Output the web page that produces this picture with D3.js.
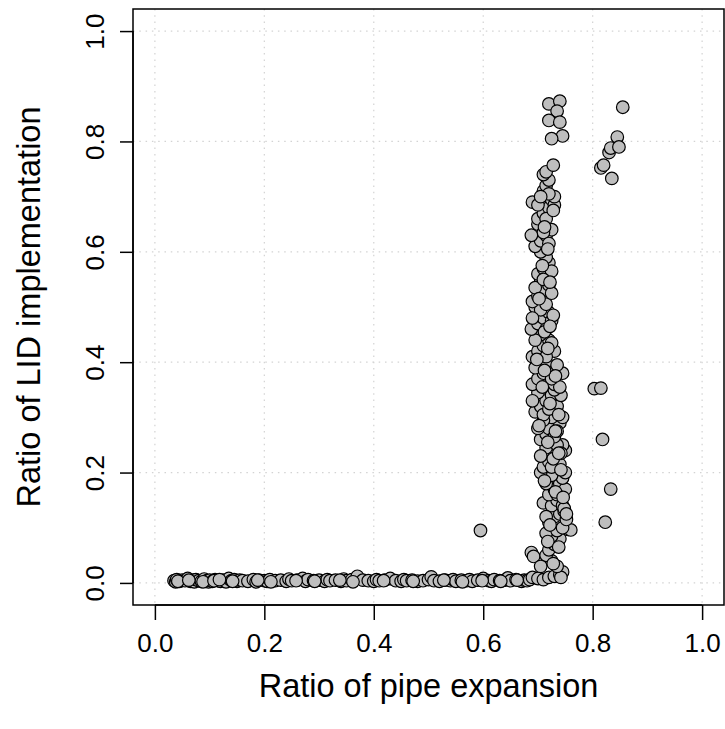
<!DOCTYPE html>
<html>
<head>
<meta charset="utf-8">
<script src="https://cdn.jsdelivr.net/npm/d3@7"></script>
<style>
  body { margin: 0; background: #fff; }
  svg { display: block; font-family: "Liberation Sans", Arial, sans-serif; }
</style>
</head>
<body>
<svg id="chart" width="725" height="729"></svg>
<script>
'use strict';

// ticks
var xTicks = [0.0, 0.2, 0.4, 0.6, 0.8, 1.0];
var yTicks = [0.0, 0.2, 0.4, 0.6, 0.8, 1.0];

// runs sitting on the floor (almost no LID)
var floorX = [0.035,0.038,0.04,0.045,0.05,0.055,0.06,0.065,0.07,0.072,0.075,0.08,0.085,0.09,0.095,0.098,0.1,0.105,0.11,0.115,0.12,0.125,0.13,0.135,0.14,0.145,0.15,0.155,0.16,0.17,0.18,0.185,0.19,0.2,0.205,0.21,0.22,0.23,0.24,0.245,0.25,0.26,0.27,0.275,0.28,0.29,0.3,0.31,0.315,0.32,0.33,0.34,0.345,0.35,0.36,0.37,0.38,0.39,0.4,0.405,0.41,0.42,0.43,0.44,0.45,0.455,0.46,0.47,0.48,0.49,0.5,0.505,0.51,0.52,0.53,0.54,0.545,0.55,0.56,0.57,0.575,0.58,0.59,0.6,0.61,0.615,0.62,0.63,0.64,0.645,0.65,0.66,0.67,0.675,0.68,
  0.042,0.062,0.088,0.108,0.118,0.142,0.188,0.212,0.258,0.292,0.338,0.362,0.418,0.472,0.528,0.562,0.598,0.632,0.662,0.685];
var floorY = [0.004,0.002,0.006,0.003,0.005,0.004,0.008,0.003,0.005,0.002,0.006,0.004,0.003,0.007,0.004,0.002,0.005,0.003,0.006,0.004,0.003,0.005,0.002,0.008,0.004,0.006,0.003,0.005,0.004,0.003,0.006,0.002,0.005,0.004,0.003,0.006,0.004,0.005,0.003,0.007,0.004,0.005,0.008,0.003,0.006,0.004,0.005,0.003,0.006,0.004,0.005,0.003,0.007,0.004,0.006,0.012,0.005,0.004,0.003,0.006,0.004,0.005,0.008,0.004,0.003,0.006,0.004,0.005,0.003,0.004,0.006,0.011,0.004,0.003,0.005,0.004,0.006,0.003,0.005,0.004,0.006,0.003,0.005,0.008,0.004,0.003,0.006,0.004,0.005,0.009,0.004,0.006,0.003,0.005,0.004,
  0.003,0.005,0.002,0.004,0.006,0.003,0.005,0.002,0.004,0.003,0.005,0.002,0.004,0.003,0.005,0.002,0.004,0.003,0.005,0.006];

// steep column where LID ramps up
var riseX = [0.69,0.70,0.71,0.72,0.73,0.74,0.745,0.742,0.735,0.725,0.688,0.692,0.715,0.705,
  0.72,0.73,0.74,0.725,0.715,0.735,0.755,0.76,0.745,0.718,
  0.72,0.73,0.74,0.748,0.71,0.725,0.735,0.745,0.715,0.752,
  0.72,0.73,0.74,0.75,0.745,0.715,0.725,0.735,0.705,0.75,
  0.71,0.72,0.73,0.74,0.75,0.745,0.715,0.725,0.735,0.705,0.742,
  0.705,0.715,0.72,0.73,0.74,0.725,0.71,0.735,0.70,0.745,
  0.695,0.705,0.715,0.725,0.735,0.742,0.70,0.71,0.73,0.72,0.69,
  0.69,0.70,0.71,0.72,0.73,0.745,0.74,0.715,0.725,0.695,0.735,
  0.69,0.70,0.71,0.72,0.73,0.705,0.715,0.725,0.695,
  0.688,0.70,0.71,0.72,0.695,0.715,0.725,0.705,0.69,
  0.69,0.70,0.71,0.72,0.705,0.715,0.725,0.695,
  0.70,0.71,0.72,0.715,0.705,0.725,0.71,
  0.695,0.705,0.715,0.725,0.70,0.71,0.688,0.72,
  0.70,0.71,0.72,0.725,0.69,0.70,0.73,0.715,0.73,
  0.71,0.715,0.72,0.71,0.715,0.72,0.705,
  0.728,0.72,0.74,0.735,0.72,0.74,0.745,0.725,
  0.728,0.738,0.722,0.748,0.732,0.712,0.742,0.728,0.718,0.702,0.738,0.722,0.708,0.732,0.698,0.718,0.712,0.728,0.702,0.722,0.708,0.718,0.712,0.728,0.732,0.738,0.746,0.752,0.712,0.722];
var riseY = [0.01,0.008,0.006,0.01,0.012,0.015,0.02,0.01,0.03,0.04,0.055,0.048,0.05,0.03,
  0.06,0.07,0.08,0.085,0.09,0.095,0.097,0.096,0.1,0.075,
  0.11,0.12,0.125,0.13,0.145,0.14,0.15,0.14,0.12,0.115,
  0.16,0.17,0.18,0.17,0.19,0.18,0.195,0.16,0.2,0.2,
  0.21,0.22,0.23,0.215,0.24,0.25,0.245,0.21,0.25,0.23,0.235,
  0.26,0.27,0.28,0.265,0.29,0.3,0.295,0.275,0.28,0.3,
  0.31,0.32,0.33,0.34,0.32,0.34,0.345,0.305,0.35,0.315,0.33,
  0.36,0.37,0.38,0.39,0.36,0.38,0.355,0.4,0.37,0.39,0.395,
  0.41,0.42,0.43,0.44,0.42,0.45,0.41,0.435,0.44,
  0.46,0.47,0.48,0.49,0.5,0.46,0.475,0.495,0.48,
  0.51,0.52,0.53,0.54,0.55,0.505,0.525,0.535,
  0.56,0.57,0.58,0.59,0.6,0.565,0.55,
  0.61,0.62,0.63,0.64,0.65,0.635,0.63,0.615,
  0.66,0.67,0.68,0.695,0.69,0.685,0.685,0.66,0.7,
  0.71,0.72,0.73,0.74,0.745,0.705,0.7,
  0.757,0.868,0.873,0.855,0.838,0.835,0.81,0.805,
  0.035,0.065,0.105,0.135,0.165,0.185,0.205,0.225,0.255,0.285,0.305,0.325,0.355,0.375,0.405,0.425,0.455,0.485,0.515,0.545,0.575,0.605,0.645,0.675,0.275,0.235,0.155,0.125,0.385,0.465];

// stray runs away from the two bands
var strayX = [0.595,0.803,0.815,0.818,0.833,0.823,0.815,0.82,0.83,0.833,0.835,0.845,0.848,0.855];
var strayY = [0.095,0.352,0.353,0.26,0.17,0.11,0.752,0.757,0.78,0.788,0.733,0.808,0.79,0.862];

var pts = [];
[[floorX, floorY], [riseX, riseY], [strayX, strayY]].forEach(function(g){
  g[0].forEach(function(v, i){ pts.push({x: v, y: g[1][i]}); });
});

var svg = d3.select("#chart");
var box = {left: 133, right: 724, top: 9, bottom: 605};

var x = d3.scaleLinear().domain([-0.04, 1.04]).range([box.left, box.right]);
var y = d3.scaleLinear().domain([-0.04, 1.04]).range([box.bottom, box.top]);

// dotted grid
svg.append("g").selectAll("line").data(xTicks).enter().append("line")
  .attr("x1", function(d){ return x(d); }).attr("x2", function(d){ return x(d); })
  .attr("y1", box.top).attr("y2", box.bottom)
  .attr("stroke", "#d3d3d3").attr("stroke-width", 1.2).attr("stroke-dasharray", "1.5,4.8");
svg.append("g").selectAll("line").data(yTicks).enter().append("line")
  .attr("y1", function(d){ return y(d); }).attr("y2", function(d){ return y(d); })
  .attr("x1", box.left).attr("x2", box.right)
  .attr("stroke", "#d3d3d3").attr("stroke-width", 1.2).attr("stroke-dasharray", "1.5,4.8");

// points
svg.append("g").selectAll("circle").data(pts).enter().append("circle")
  .attr("cx", function(d){ return x(d.x); })
  .attr("cy", function(d){ return y(d.y); })
  .attr("r", 6.3)
  .attr("fill", "#bebebe")
  .attr("stroke", "#000")
  .attr("stroke-width", 1.2);

// frame
svg.append("rect")
  .attr("x", box.left).attr("y", box.top)
  .attr("width", box.right - box.left).attr("height", box.bottom - box.top)
  .attr("fill", "none").attr("stroke", "#000").attr("stroke-width", 1.5);

// axes, R style
var xAxis = d3.axisBottom(x).tickValues(xTicks).tickSize(15).tickPadding(14)
  .tickFormat(d3.format(".1f"));
var gx = svg.append("g").attr("transform", "translate(0," + box.bottom + ")").call(xAxis);
gx.select(".domain").attr("d", "M" + x(0) + ",0H" + x(1)).attr("stroke-width", 1.5);
gx.selectAll(".tick line").attr("stroke-width", 1.5);
gx.selectAll("text").attr("font-size", 26).attr("fill", "#000")
  .attr("font-family", "Liberation Sans, Arial, sans-serif");

var yAxis = d3.axisLeft(y).tickValues(yTicks).tickSize(13).tickPadding(0)
  .tickFormat(d3.format(".1f"));
var gy = svg.append("g").attr("transform", "translate(" + box.left + ",0)").call(yAxis);
gy.select(".domain").attr("d", "M0," + y(0) + "V" + y(1)).attr("stroke-width", 1.5);
gy.selectAll(".tick line").attr("stroke-width", 1.5);
gy.selectAll("text")
  .attr("x", null).attr("dy", null)
  .attr("transform", "translate(-29,0) rotate(-90)")
  .attr("text-anchor", "middle")
  .attr("font-size", 26).attr("fill", "#000")
  .attr("font-family", "Liberation Sans, Arial, sans-serif");

// titles
svg.append("text")
  .attr("x", (x(-0.04) + x(1.04)) / 2).attr("y", 697)
  .attr("text-anchor", "middle").attr("font-size", 32.5)
  .text("Ratio of pipe expansion");
svg.append("text")
  .attr("transform", "translate(40," + ((y(-0.04) + y(1.04)) / 2) + ") rotate(-90)")
  .attr("text-anchor", "middle").attr("font-size", 32.5)
  .text("Ratio of LID implementation");
</script>
</body>
</html>
